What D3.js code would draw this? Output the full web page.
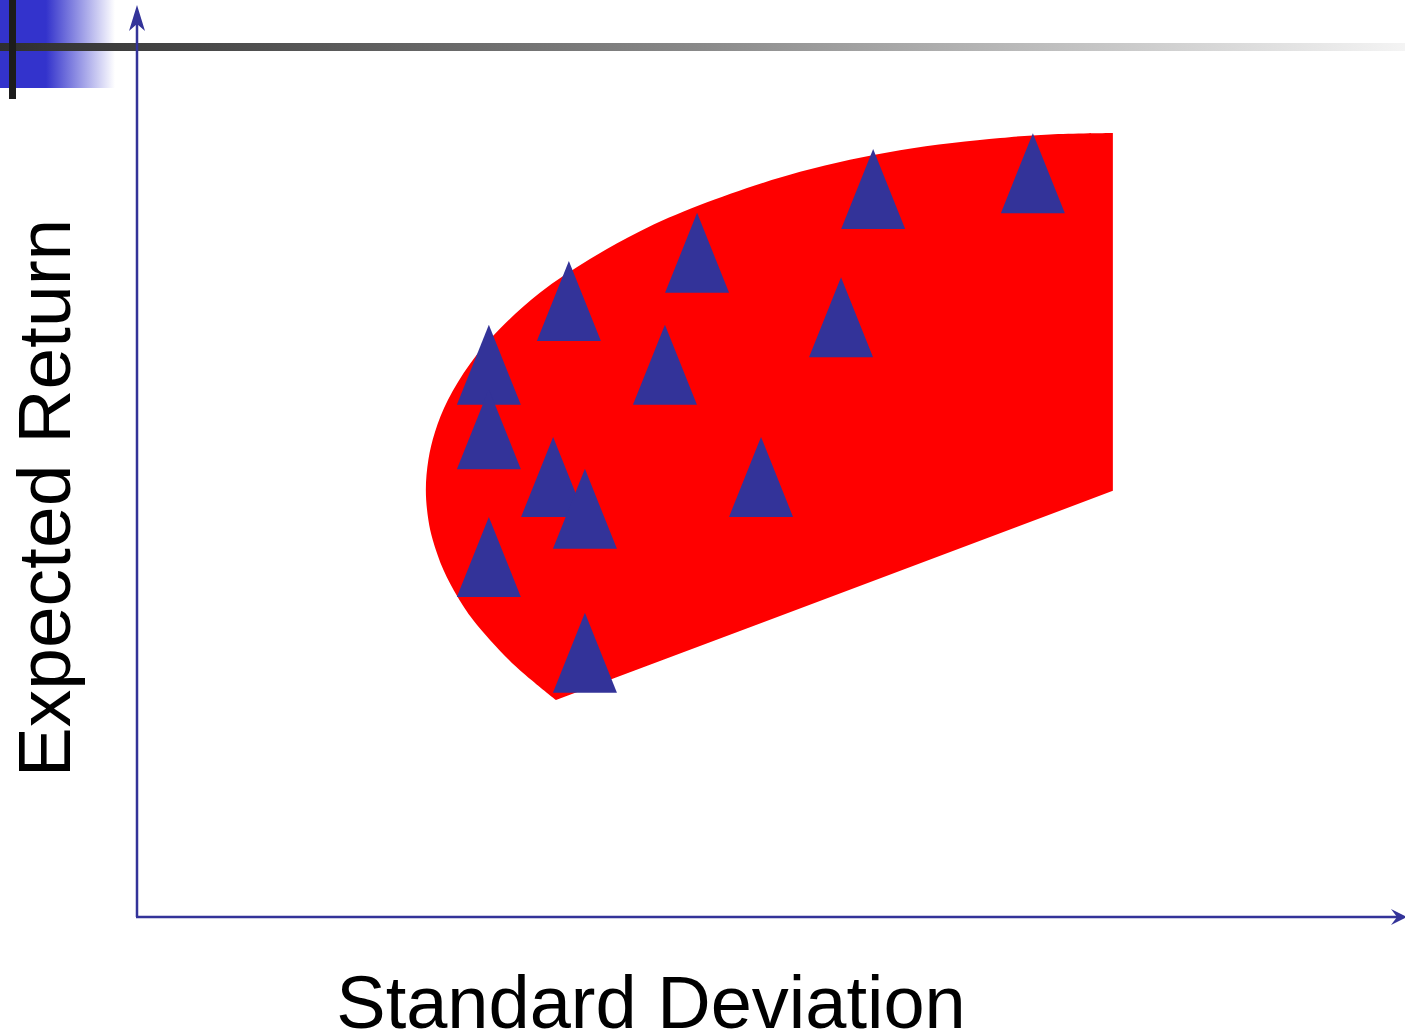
<!DOCTYPE html>
<meta charset="utf-8" />
<script src="https://d3js.org/d3.v7.js"></script>
<style>
  body { margin: 0; background: #fff; }
  text { font-family: "Liberation Sans", Arial, sans-serif; }
</style>
<div id="chart"></div>
<script>
  // feasible set boundary (std dev %, expected return %), curved part from bottom tip round to top right
  const frontierSd = [13.30, 12.51, 11.81, 10.67, 10.18, 9.73, 9.39, 9.25, 9.17, 9.25, 9.46, 9.87, 10.57, 11.52, 12.79, 14.38, 15.97, 17.87, 21.05, 24.22, 27.40, 28.98, 30.98];
  const frontierRet = [4.82, 5.27, 5.71, 6.60, 7.11, 7.71, 8.38, 8.82, 9.49, 10.16, 10.78, 11.49, 12.29, 13.07, 13.87, 14.62, 15.24, 15.82, 16.56, 17.04, 17.31, 17.39, 17.42];
  // straight closing edges: down the right side, back to the tip
  const edgeSd = [30.98, 30.98, 13.30];
  const edgeRet = [17.42, 9.47, 4.82];

  // individual assets
  const assetSd = [11.17, 11.17, 13.71, 17.78, 16.76, 23.37, 28.44, 22.35, 13.21, 14.22, 19.81, 11.17, 14.22];
  const assetRet = [12.27, 10.84, 13.69, 14.76, 12.27, 16.18, 16.53, 13.33, 9.78, 9.07, 9.78, 8.00, 5.87];

  const xLabel = "Standard Deviation";
  const yLabel = "Expected Return";

  const width = 1405;
  const height = 1035;
  const blue = "#333399";

  const svg = d3
    .select("#chart")
    .append("svg")
    .attr("width", width)
    .attr("height", height);

  const x = d3.scaleLinear().domain([0, 40]).range([137, 1397]);
  const y = d3.scaleLinear().domain([0, 20]).range([917, 17]);

  // slide decoration in the corner
  const defs = svg.append("defs");
  const g1 = defs.append("linearGradient").attr("id", "blueFade");
  g1.append("stop").attr("offset", "0%").attr("stop-color", "#3333cc");
  g1.append("stop").attr("offset", "40%").attr("stop-color", "#3333cc");
  g1.append("stop").attr("offset", "100%").attr("stop-color", "#ffffff");
  const g2 = defs.append("linearGradient").attr("id", "greyFade");
  g2.append("stop").attr("offset", "0%").attr("stop-color", "#2e2e2e");
  g2.append("stop").attr("offset", "50%").attr("stop-color", "#8a8a8a");
  g2.append("stop").attr("offset", "100%").attr("stop-color", "#f4f4f4");

  svg.append("rect").attr("x", 0).attr("y", 0).attr("width", 115).attr("height", 88)
    .attr("fill", "url(#blueFade)");
  svg.append("rect").attr("x", 0).attr("y", 43).attr("width", width).attr("height", 8)
    .attr("fill", "url(#greyFade)");
  svg.append("rect").attr("x", 9).attr("y", 0).attr("width", 7).attr("height", 99)
    .attr("fill", "#1c1c1c");

  // feasible region
  const frontier = frontierSd.map((d, i) => [d, frontierRet[i]]);
  const curve = d3.line()
    .x((d) => x(d[0]))
    .y((d) => y(d[1]))
    .curve(d3.curveCatmullRom.alpha(0.5));
  let d = curve(frontier);
  edgeSd.forEach((s, i) => { d += "L" + x(s) + "," + y(edgeRet[i]); });
  svg.append("path").attr("d", d + "Z").attr("fill", "#ff0000");

  // assets as tall triangles
  const tw = 32, th = 40;
  svg.append("g")
    .selectAll("path")
    .data(assetSd.map((s, i) => ({ sd: s, ret: assetRet[i] })))
    .join("path")
    .attr("d", (p) => {
      const cx = x(p.sd), cy = y(p.ret);
      return "M" + cx + "," + (cy - th) + "L" + (cx + tw) + "," + (cy + th) + "L" + (cx - tw) + "," + (cy + th) + "Z";
    })
    .attr("fill", blue);

  // axes with arrow heads
  const x0 = x(0), y0 = y(0);
  svg.append("line").attr("x1", x0).attr("y1", y0).attr("x2", x0).attr("y2", 20)
    .attr("stroke", blue).attr("stroke-width", 2.5);
  svg.append("line").attr("x1", x0 - 1).attr("y1", y0).attr("x2", 1398).attr("y2", y0)
    .attr("stroke", blue).attr("stroke-width", 2.5);
  svg.append("path")
    .attr("d", `M${x0},5 L${x0 + 8},31 L${x0},24 L${x0 - 8},31 Z`)
    .attr("fill", blue);
  svg.append("path")
    .attr("d", `M1407,${y0} L1391,${y0 - 8} L1397,${y0} L1391,${y0 + 8} Z`)
    .attr("fill", blue);

  // labels
  svg.append("text")
    .attr("x", 651)
    .attr("y", 1028)
    .attr("text-anchor", "middle")
    .style("font-size", "74px")
    .text(xLabel);
  svg.append("text")
    .attr("transform", "translate(70,498) rotate(-90)")
    .attr("text-anchor", "middle")
    .style("font-size", "75px")
    .text(yLabel);
</script>
